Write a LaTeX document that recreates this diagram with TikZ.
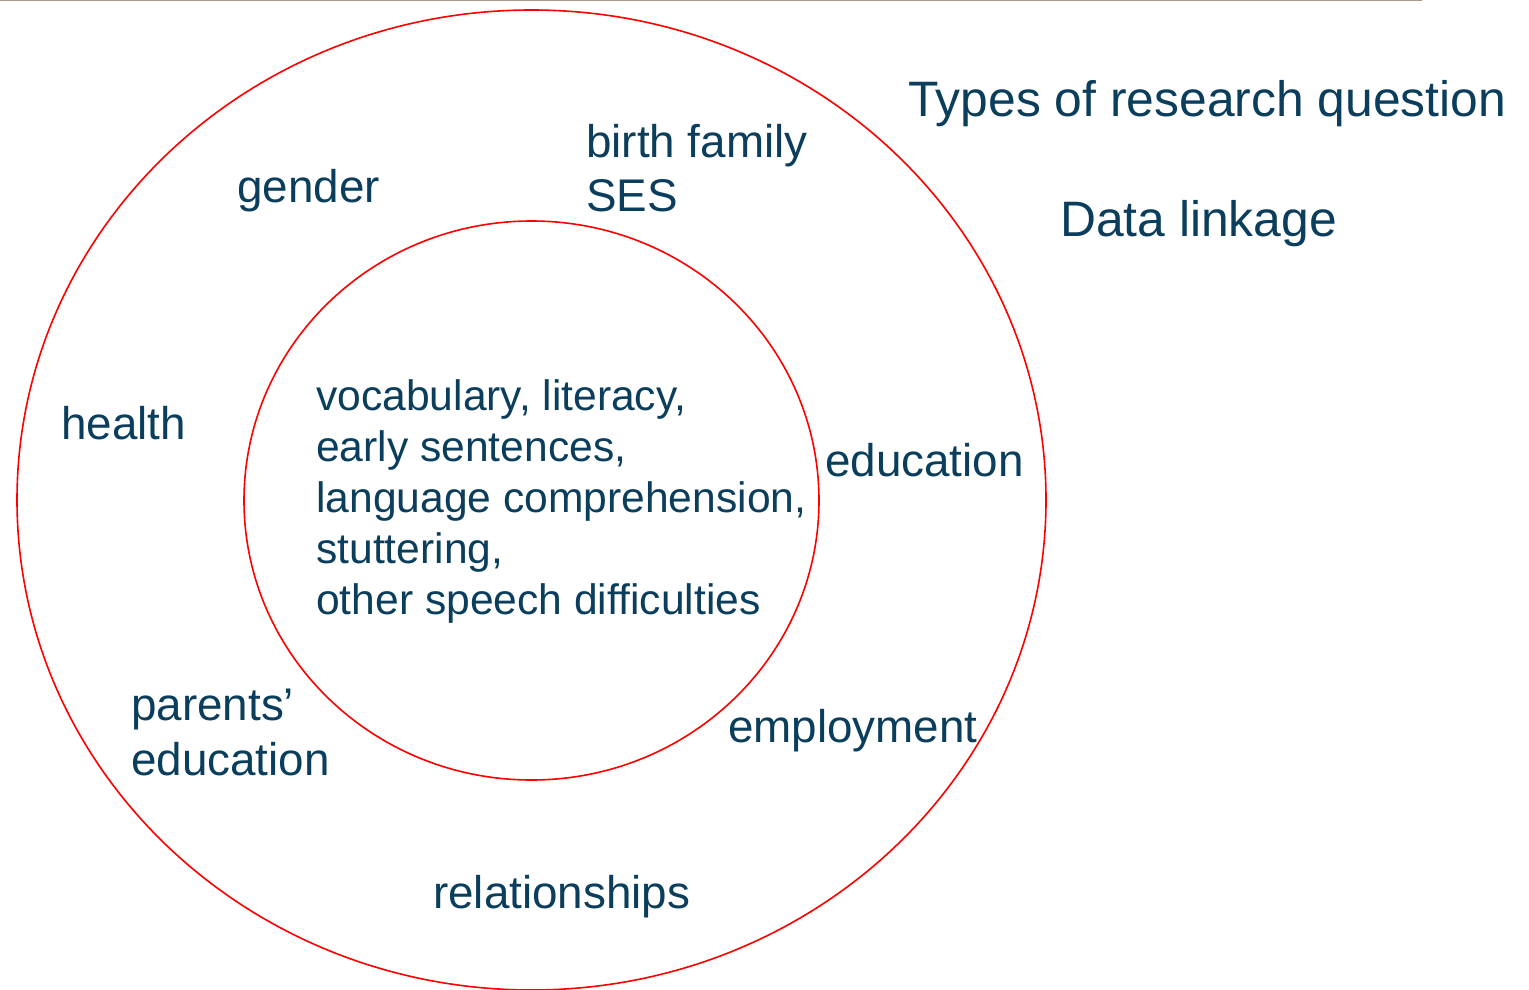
\documentclass[tikz,border=0pt]{standalone}
\usepackage{fontspec}
\setmainfont{Liberation Sans}
\usetikzlibrary{shapes.geometric}
\definecolor{txt}{RGB}{10,62,92}
\definecolor{rule}{RGB}{168,155,142}
\begin{document}
\begin{tikzpicture}[x=1pt,y=-1pt,
  lbl/.style={anchor=base west,inner sep=0pt,text=txt,font=\fontsize{45.8}{54}\selectfont},
  ttl/.style={anchor=base west,inner sep=0pt,text=txt,font=\fontsize{49.8}{58}\selectfont},
  inner/.style={anchor=base west,inner sep=0pt,text=txt,font=\fontsize{42.6}{51}\selectfont},
  ring/.style={draw=red,line width=1.6pt}]
\useasboundingbox (0,0) rectangle (1529,990);
\draw[rule,line width=1.5pt] (0,0.5) -- (1422,0.5);
\node[ring,ellipse,minimum width=1029pt,minimum height=980pt,inner sep=0pt] (outer) at (531.5,500) {};
\node[ring,ellipse,minimum width=575pt,minimum height=559pt,inner sep=0pt] (innerring) at (531.5,500.5) {};
\node[ttl] (types) at (908,116) {Types of research question};
\node[ttl] (linkage) at (1060,236) {Data linkage};
\node[lbl] (gender) at (237,202) {gender};
\node[lbl] (birth) at (586,157) {birth family};
\node[lbl] (ses) at (586,211) {SES};
\node[lbl] (health) at (61,439) {health};
\node[lbl] (educ) at (825,476) {education};
\node[lbl] (parents) at (131,720) {parents’};
\node[lbl] (peduc) at (131,775) {education};
\node[lbl] (employ) at (728,742) {employment};
\node[lbl] (rel) at (433,908) {relationships};
\node[inner] (l1) at (316,410) {vocabulary, literacy,};
\node[inner] (l2) at (316,461) {early sentences,};
\node[inner] (l3) at (316,512) {language comprehension,};
\node[inner] (l4) at (316,563) {stuttering,};
\node[inner] (l5) at (316,614) {other speech difficulties};
\end{tikzpicture}
\end{document}
